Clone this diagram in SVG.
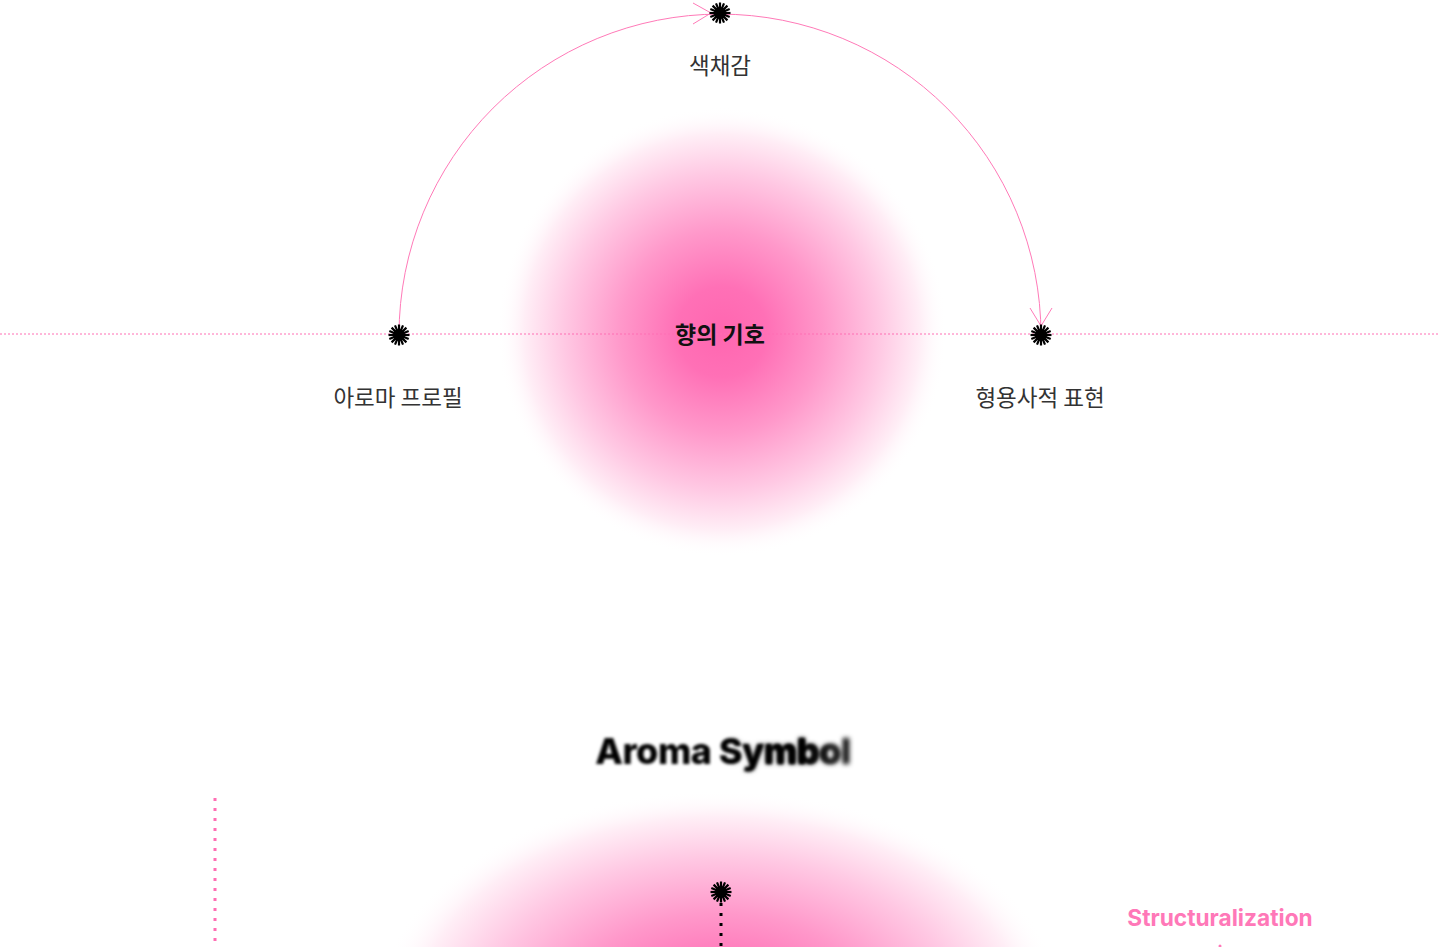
<svg xmlns="http://www.w3.org/2000/svg" width="1440" height="947" viewBox="0 0 1440 947">
<style>
.lbl{font-family:"Noto Sans CJK KR","Noto Sans",sans-serif;font-size:22.5px;fill:#333;text-anchor:middle}
.star{fill:#000}
.ttl{font-family:Inter,sans-serif;font-size:36px;font-weight:800;fill:#000;text-anchor:middle;letter-spacing:-0.5px}
</style>
<defs>
<radialGradient id="glow" cx="0.5" cy="0.5" r="0.5">
<stop offset="0" stop-color="#ff66b0"/>
<stop offset="0.2" stop-color="#ff70b6"/>
<stop offset="0.45" stop-color="#ff98ca"/>
<stop offset="0.7" stop-color="#ffc8e3"/>
<stop offset="0.88" stop-color="#ffeef6"/>
<stop offset="1" stop-color="#ffffff" stop-opacity="0"/>
</radialGradient>
<linearGradient id="fadeL" x1="590" y1="0" x2="860" y2="0" gradientUnits="userSpaceOnUse">
<stop offset="0.8" stop-color="#fff"/><stop offset="0.95" stop-color="#000"/>
</linearGradient>
<linearGradient id="fadeR" x1="590" y1="0" x2="860" y2="0" gradientUnits="userSpaceOnUse">
<stop offset="0.5" stop-color="#000"/><stop offset="0.7" stop-color="#fff"/>
</linearGradient>
<mask id="mL" maskUnits="userSpaceOnUse" x="560" y="700" width="330" height="100"><rect x="560" y="700" width="330" height="100" fill="url(#fadeL)"/></mask>
<mask id="mR" maskUnits="userSpaceOnUse" x="560" y="700" width="330" height="100"><rect x="560" y="700" width="330" height="100" fill="url(#fadeR)"/></mask>
<filter id="blur1" x="-10%" y="-40%" width="120%" height="180%"><feGaussianBlur stdDeviation="1.5"/></filter>
<filter id="blur2" x="-10%" y="-40%" width="120%" height="180%"><feGaussianBlur stdDeviation="2.8"/></filter>
<g id="starShape">
<circle r="6"/>
<g stroke="#000" stroke-width="2.2">
<line x1="0" y1="-10.5" x2="0" y2="10.5"/>
<line x1="-10.5" y1="0" x2="10.5" y2="0"/>
<line x1="-7.4" y1="-7.4" x2="7.4" y2="7.4"/>
<line x1="-7.4" y1="7.4" x2="7.4" y2="-7.4"/>
<line x1="-4" y1="-9.7" x2="4" y2="9.7"/>
<line x1="4" y1="-9.7" x2="-4" y2="9.7"/>
<line x1="-9.7" y1="-4" x2="9.7" y2="4"/>
<line x1="-9.7" y1="4" x2="9.7" y2="-4"/>
</g>
</g>
</defs>
<rect width="1440" height="947" fill="#fff"/>
<g id="glow-top"><circle cx="722" cy="332" r="225" fill="url(#glow)"/></g>
<g id="glow-bottom"><ellipse cx="720" cy="1015" rx="345" ry="225" fill="url(#glow)"/></g>
<g id="connectors" fill="none">
<line x1="0" y1="334" x2="1440" y2="334" stroke="#ff6eb4" stroke-width="1" stroke-dasharray="2 2"/>
<path d="M399,335 A321,321 0 0 1 1041,335" stroke="#ff7ab8" stroke-width="1"/>
<polyline points="693,3 711,13 693,24" stroke="#ff7ab8" stroke-width="1"/>
<polyline points="1030,308 1041,326 1052,308" stroke="#ff7ab8" stroke-width="1"/>
<line x1="215" y1="798" x2="215" y2="947" stroke="#ff6eb4" stroke-width="3" stroke-dasharray="3 7"/>
<line x1="721" y1="903" x2="721" y2="947" stroke="#000" stroke-width="3" stroke-dasharray="3 7"/>
</g>
<g id="node-color"><use href="#starShape" x="720" y="13" class="star"/><text class="lbl" x="720" y="74">색채감</text></g>
<g id="node-aroma"><use href="#starShape" x="399" y="335" class="star"/><text class="lbl" x="398" y="406">아로마 프로필</text></g>
<g id="node-adj"><use href="#starShape" x="1041" y="335" class="star"/><text class="lbl" x="1040" y="406">형용사적 표현</text></g>
<g id="node-center"><text x="720" y="343" font-family="Noto Sans CJK KR,sans-serif" font-size="23" font-weight="700" fill="#111" text-anchor="middle">향의 기호</text></g>
<g id="title">
<g mask="url(#mL)"><text class="ttl" x="723" y="764" filter="url(#blur1)">Aroma Symbol</text></g>
<g mask="url(#mR)"><text class="ttl" x="723" y="764" filter="url(#blur2)">Aroma Symbol</text></g>
</g>
<g id="node-bottom"><use href="#starShape" x="721" y="892" class="star"/></g>
<g id="structuralization"><text x="1220" y="926" font-family="Inter,sans-serif" font-size="22.7" font-weight="700" fill="#ff78b8" text-anchor="middle">Structuralization</text><circle cx="1220" cy="946" r="1.5" fill="#ff78b8"/></g>
</svg>
